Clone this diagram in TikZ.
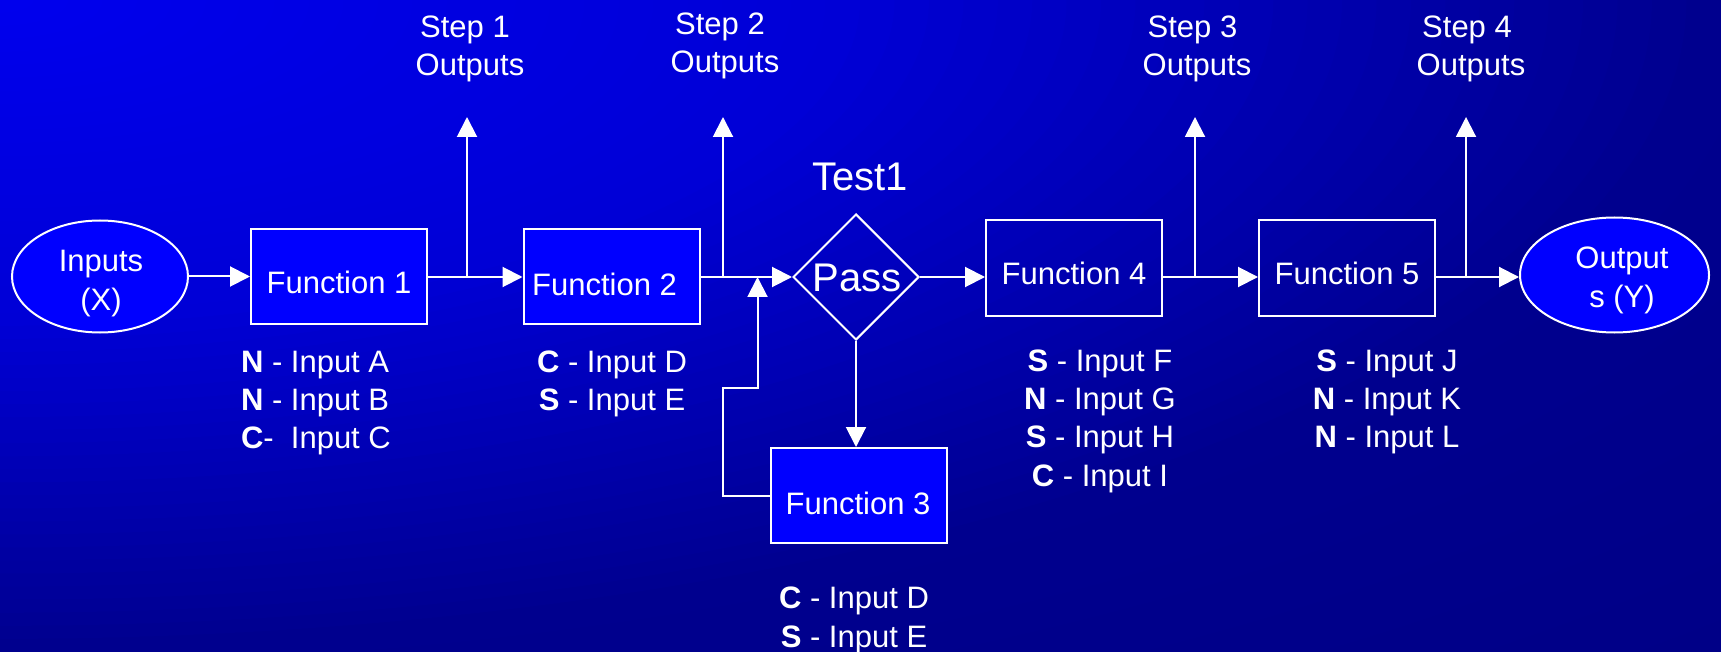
\documentclass[tikz,border=0pt]{standalone}
\usepackage{fontspec}
\setmainfont{Liberation Sans}
\usetikzlibrary{arrows.meta,shapes.geometric}
\definecolor{boxblue}{RGB}{0,0,255}
\begin{document}
\begin{tikzpicture}[x=1pt,y=-1pt,line width=2pt,white,
  arr/.style={-{Triangle[length=20pt,width=20pt]}},
  funcbox/.style={draw=white,rectangle,minimum width=176pt,minimum height=95pt,inner sep=0pt},
  oval/.style={draw=white,ellipse,fill=boxblue,inner sep=0pt},
  txt/.style={text=white,font=\fontsize{31}{38}\selectfont,inner sep=0pt,anchor=base},
  lbl/.style={txt},
  lblw/.style={txt,anchor=base west},
  big/.style={txt,font=\fontsize{40}{48}\selectfont}]
% background: elliptical gradient from the top-left corner
\begin{scope}
\clip (0,0) rectangle (1721,652);
\foreach \s in {1.42,1.40,...,0.0} {
  \pgfmathsetmacro\bv{\s<=0.5 ? (0.933-0.094*\s/0.5) : (\s<=1 ? (0.839-0.282*(\s-0.5)/0.5) : (0.557-0.027*(\s-1)/0.42))}
  \definecolor{bgc}{rgb}{0,0,\bv}
  \fill[bgc] (0,0) ellipse [x radius={max(\s,0.01)*1721}, y radius={max(\s,0.01)*652}];
}
\end{scope}
\useasboundingbox (0,0) rectangle (1721,652);

% nodes
\node[oval,minimum width=176pt,minimum height=112pt] (in) at (100,276.5) {};
\node[txt] (inT1) at (101,272) {Inputs};
\node[txt] (inT2) at (101,310) {(X)};

\node[funcbox,fill=boxblue] (f1) at (339,276.5) {};
\node[txt] (f1t) at (339,293.5) {Function 1};

\node[funcbox,fill=boxblue] (f2) at (611.5,276.5) {};
\node[txt] (f2t) at (604.5,296) {Function 2};

\node[draw=white,diamond,minimum width=126pt,minimum height=126pt,inner sep=0pt] (pass) at (856,277) {};
\node[big] (passT) at (857,292) {Pass};
\node[big] (test) at (860,191) {Test1};

\node[funcbox,fill=boxblue] (f3) at (859,495.5) {};
\node[txt] (f3t) at (858,514.5) {Function 3};

\node[funcbox] (f4) at (1074,268) {};
\node[txt] (f4t) at (1074,285) {Function 4};

\node[funcbox] (f5) at (1347,268) {};
\node[txt] (f5t) at (1347,285) {Function 5};

\node[oval,minimum width=189pt,minimum height=115pt] (out) at (1614.5,275) {};
\node[txt] (outT1) at (1622,269) {Output};
\node[txt] (outT2) at (1622,307) {s (Y)};

% step output labels
\node[txt] (s1a) at (465,38) {Step 1};
\node[txt] (s1b) at (470,76) {Outputs};
\node[txt] (s2a) at (720,35) {Step 2};
\node[txt] (s2b) at (725,73) {Outputs};
\node[txt] (s3a) at (1192.5,38) {Step 3};
\node[txt] (s3b) at (1197,76) {Outputs};
\node[txt] (s4a) at (1467,38) {Step 4};
\node[txt] (s4b) at (1471,76) {Outputs};

% input labels
\node[lblw] (a1) at (240,372) {\textbf{N} - Input A};
\node[lblw] (a2) at (240,410) {\textbf{N} - Input B};
\node[lblw] (a3) at (240,448) {\textbf{C}-\hspace{0.556em}Input C};

\node[lbl] (b1) at (612,372) {\textbf{C} - Input D};
\node[lbl] (b2) at (612,410) {\textbf{S} - Input E};

\node[lbl] (c1) at (854,608.5) {\textbf{C} - Input D};
\node[lbl] (c2) at (854,647) {\textbf{S} - Input E};

\node[lbl] (d1) at (1100,371) {\textbf{S} - Input F};
\node[lbl] (d2) at (1100,409) {\textbf{N} - Input G};
\node[lbl] (d3) at (1100,447) {\textbf{S} - Input H};
\node[lbl] (d4) at (1100,486) {\textbf{C} - Input I};

\node[lbl] (e1) at (1387,371) {\textbf{S} - Input J};
\node[lbl] (e2) at (1387,409) {\textbf{N} - Input K};
\node[lbl] (e3) at (1387,447) {\textbf{N} - Input L};

% coordinates
\coordinate (j1) at (467,277);
\coordinate (j2) at (723,277);
\coordinate (j3) at (1195,277);
\coordinate (j4) at (1466,277);
\coordinate (t1) at (467,117);
\coordinate (t2) at (723,117);
\coordinate (t3) at (1195,117);
\coordinate (t4) at (1466,117);
\coordinate (fb2) at (723,388);
\coordinate (fb3) at (757.5,388);
\coordinate (fb4) at (757.5,277);

% connectors
\draw[arr] (in.east) -- (in.east -| f1.west);
\draw (f1.east |- j1) -- (j1);
\draw[arr] (j1) -- (j1 -| f2.west);
\draw[arr] (j1) -- (t1);
\draw (f2.east |- j2) -- (j2);
\draw[arr] (j2) -- (pass.west);
\draw[arr] (j2) -- (t2);
\draw[arr] (pass.south) -- (pass.south |- f3.north);
\draw[arr] (f3.west) -- (f3.west -| fb2) -- (fb2) -- (fb3) -- (fb4);
\draw[arr] (pass.east) -- (pass.east -| f4.west);
\draw (f4.east |- j3) -- (j3);
\draw[arr] (j3) -- (j3 -| f5.west);
\draw[arr] (j3) -- (t3);
\draw (f5.east |- j4) -- (j4);
\draw[arr] (j4) -- (j4 -| out.west);
\draw[arr] (j4) -- (t4);
\end{tikzpicture}
\end{document}
